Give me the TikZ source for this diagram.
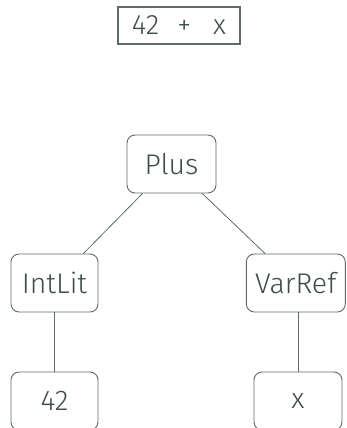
\documentclass[tikz,border=0pt]{standalone}
\usepackage{fontspec}
\setmainfont{Fira Sans Light}
\definecolor{ink}{HTML}{3F4B4D}
\definecolor{edge}{HTML}{5E696B}
\begin{document}
\begin{tikzpicture}[x=1pt,y=-1pt,
  treenode/.style={draw=edge, line width=0.9pt, rounded corners=8pt, text=ink,
    font=\fontsize{28.5}{32}\selectfont, inner sep=0pt, minimum width=87pt, minimum height=58pt},
  exprbox/.style={draw=edge, line width=1.1pt, text=ink, font=\fontsize{28}{32}\selectfont,
    inner sep=0pt, minimum width=122pt, minimum height=37pt},
  link/.style={draw=edge, line width=0.8pt}]
\useasboundingbox (0,0) rectangle (346,428);
\clip (0,0) rectangle (346,428);
\node[exprbox] (expr) at (179,25.5) {42\hspace{18pt}+\hspace{22pt}x};
\node[treenode, minimum width=89pt] (plus) at (171.5,164) {Plus};
\node[treenode] (intlit) at (54.5,283) {IntLit};
\node[treenode, minimum width=99pt] (varref) at (295.8,283) {VarRef};
\node[treenode] (n42) at (54.5,401) {42};
\node[treenode, minimum width=88pt] (nx) at (298,401) {x};
\draw[link] (plus) -- (intlit);
\draw[link] (plus) -- (varref);
\draw[link] (intlit) -- (n42);
\draw[link] (varref.south -| nx) -- (nx);
\end{tikzpicture}
\end{document}
